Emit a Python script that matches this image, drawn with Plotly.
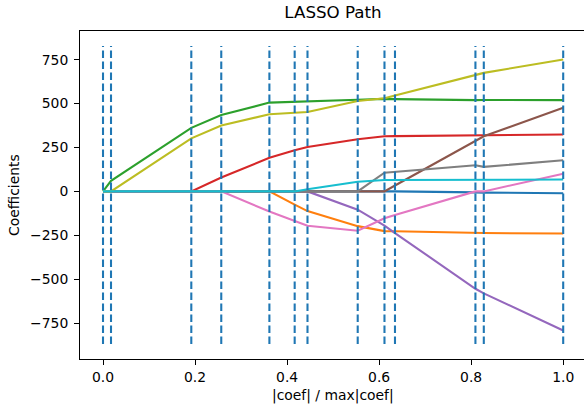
import plotly.graph_objects as go

# Normalised L1 norm at each breakpoint of the path
xx = [0.0, 0.01738, 0.19186, 0.25697, 0.36155, 0.41651, 0.44434,
      0.55347, 0.61163, 0.63446, 0.80928, 0.82747, 1.0]

feature_names = ["age", "sex", "bmi", "bp", "s1", "s2", "s3", "s4", "s5", "s6"]

age = [0, 0, 0, 0, 0, 0, 0, 0, 0, 0, -5.72, -7.01, -10.01]
sex = [0, 0, 0, 0, 0, -74.92, -111.98, -197.76, -226.13, -227.18, -234.40, -237.10, -239.82]
bmi = [0, 60.12, 361.89, 434.76, 505.66, 511.35, 512.04, 522.26, 526.89, 525.56, 519.92, 520.44, 519.84]
bp = [0, 0, 0, 79.24, 191.27, 234.15, 252.53, 297.16, 314.39, 314.95, 320.16, 321.55, 324.39]
s1 = [0, 0, 0, 0, 0, 0, 0, -103.95, -195.11, -237.34, -554.27, -580.44, -792.18]
s2 = [0, 0, 0, 0, 0, 0, 0, 0, 0, 33.63, 286.74, 313.86, 476.75]
s3 = [0, 0, 0, 0, -114.10, -169.71, -196.05, -223.93, -152.48, -134.60, 0, 0, 101.04]
s4 = [0, 0, 0, 0, 0, 0, 0, 0, 106.34, 111.38, 148.90, 139.86, 177.06]
s5 = [0, 0, 301.78, 374.92, 439.66, 450.67, 452.39, 514.75, 529.92, 545.48, 663.03, 674.94, 751.28]
s6 = [0, 0, 0, 0, 0, 0, 12.08, 54.77, 64.49, 64.61, 66.33, 67.18, 67.63]

series = [age, sex, bmi, bp, s1, s2, s3, s4, s5, s6]

x_ticks = [0.0, 0.2, 0.4, 0.6, 0.8, 1.0]
x_tick_labels = ["0.0", "0.2", "0.4", "0.6", "0.8", "1.0"]
y_ticks = [-750, -500, -250, 0, 250, 500, 750]
y_tick_labels = ["\u2212750", "\u2212500", "\u2212250", "0", "250", "500", "750"]

colors = ["#1f77b4", "#ff7f0e", "#2ca02c", "#d62728", "#9467bd",
          "#8c564b", "#e377c2", "#7f7f7f", "#bcbd22", "#17becf"]

FONT = "DejaVu Sans"
LW = 2.08

fig = go.Figure()
for name, vals, c in zip(feature_names, series, colors):
    fig.add_trace(go.Scatter(x=xx, y=vals, mode="lines", name=name,
                             line=dict(color=c, width=LW), hoverinfo="skip"))

# vertical dashed lines spanning the data limits (auto-margined like matplotlib)
all_vals = [v for s in series for v in s]
lo, hi = min(all_vals), max(all_vals)
pad = 0.05 * (hi - lo)
ymin, ymax = lo - pad, hi + pad
vx, vy = [], []
for x in xx:
    vx += [x, x, None]
    vy += [ymin, ymax, None]
fig.add_trace(go.Scatter(x=vx, y=vy, mode="lines", name="breaks",
                         line=dict(color="#1f77b4", width=LW, dash="7.7px,3.3px"),
                         hoverinfo="skip", connectgaps=False))

pad2 = 0.05 * (ymax - ymin)
yr = [ymin - pad2, ymax + pad2]

fig.update_layout(
    width=584, height=406,
    margin=dict(l=80, r=0, t=31, b=47, autoexpand=False),
    paper_bgcolor="white", plot_bgcolor="white",
    showlegend=False,
    font=dict(family=FONT, size=13.9, color="black"),
    title=dict(text="LASSO Path", xref="paper", x=(333 - 80) / 504,
               xanchor="center", yref="container", y=1 - 12 / 406, yanchor="middle",
               font=dict(family=FONT, size=16.7, color="black")),
    xaxis=dict(range=[-0.05, 1.0452], tickvals=x_ticks, ticktext=x_tick_labels,
               showgrid=False, zeroline=False, showline=True, linecolor="black",
               linewidth=1.1, mirror=True, ticks="outside", ticklen=4.9,
               tickwidth=1.1, tickcolor="black", ticklabelstandoff=0,
               automargin=False,
               tickfont=dict(family=FONT, size=13.9, color="black")),
    yaxis=dict(range=yr, tickvals=y_ticks, ticktext=y_tick_labels,
               showgrid=False, zeroline=False, showline=True, linecolor="black",
               linewidth=1.1, ticks="outside", ticklen=4.9,
               tickwidth=1.1, tickcolor="black", ticklabelstandoff=3,
               automargin=False,
               tickfont=dict(family=FONT, size=13.9, color="black")),
    annotations=[
        dict(text="|coef| / max|coef|", xref="paper", yref="paper",
             x=(333 - 80) / 504, y=(359 - 395) / 328, xanchor="center", yanchor="middle",
             showarrow=False, font=dict(family=FONT, size=13.9, color="black")),
        dict(text="Coefficients", xref="paper", yref="paper",
             x=(14 - 80) / 504, y=(359 - 195) / 328, xanchor="center", yanchor="middle",
             textangle=-90, showarrow=False,
             font=dict(family=FONT, size=13.9, color="black")),
    ],
)

fig.write_html("out.html", config={"displayModeBar": False},
               post_script="document.body.style.margin='0';document.body.style.overflow='hidden';")
